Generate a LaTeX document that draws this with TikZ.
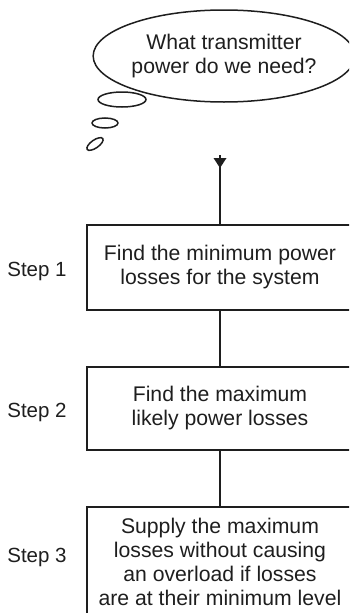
\documentclass[tikz,border=0pt]{standalone}
\usepackage{fontspec}
\setmainfont{Liberation Sans}
\usetikzlibrary{shapes.geometric}
\definecolor{ink}{HTML}{1E1E1E}
\begin{document}
\begin{tikzpicture}[x=1pt,y=-1pt,
  every node/.style={text=ink},
  stepbox/.style={draw=ink,line width=1.5pt,minimum width=266pt,align=center,inner sep=0pt,
    font=\fontsize{21.2}{24}\selectfont},
  steplabel/.style={font=\fontsize{20.5}{24}\selectfont},
  bubble/.style={draw=ink,line width=1.5pt,ellipse,inner sep=0pt},
  conn/.style={draw=ink,line width=1.5pt}]
\useasboundingbox (0,0) rectangle (349,613);
\clip (0,0) rectangle (349,613);
% thought bubble
\node[bubble,minimum width=232pt,minimum height=92pt,align=center,
  font=\fontsize{21.2}{24}\selectfont] (thought) at (224,56) {What transmitter\\power do we need?};
\node[bubble,minimum width=48pt,minimum height=15pt] (b1) at (122,99.5) {};
\node[bubble,minimum width=26pt,minimum height=10pt] (b2) at (105,123) {};
\node[bubble,minimum width=19pt,minimum height=8pt,rotate=35] (b3) at (95,144) {};
% boxes
\node[stepbox,minimum height=85pt] (s1) at (220,267.5) {Find the minimum power\\losses for the system};
\node[stepbox,minimum height=83pt] (s2) at (220,408.5) {Find the maximum\\likely power losses};
\node[stepbox,minimum height=110pt] (s3) at (220,562) {Supply the maximum\\losses without causing\\an overload if losses\\are at their minimum level};
% labels
\node[steplabel] (l1) at (37,271) {Step 1};
\node[steplabel] (l2) at (37,412) {Step 2};
\node[steplabel] (l3) at (37,557) {Step 3};
% connectors
\coordinate (start) at (220,155);
\draw[conn] (start) -- (s1.north);
\fill[ink] (213.5,158) -- (226.5,158) -- (220,168) -- cycle;
\draw[conn] (s1.south) -- (s2.north);
\draw[conn] (s2.south) -- (s3.north);
\end{tikzpicture}
\end{document}
